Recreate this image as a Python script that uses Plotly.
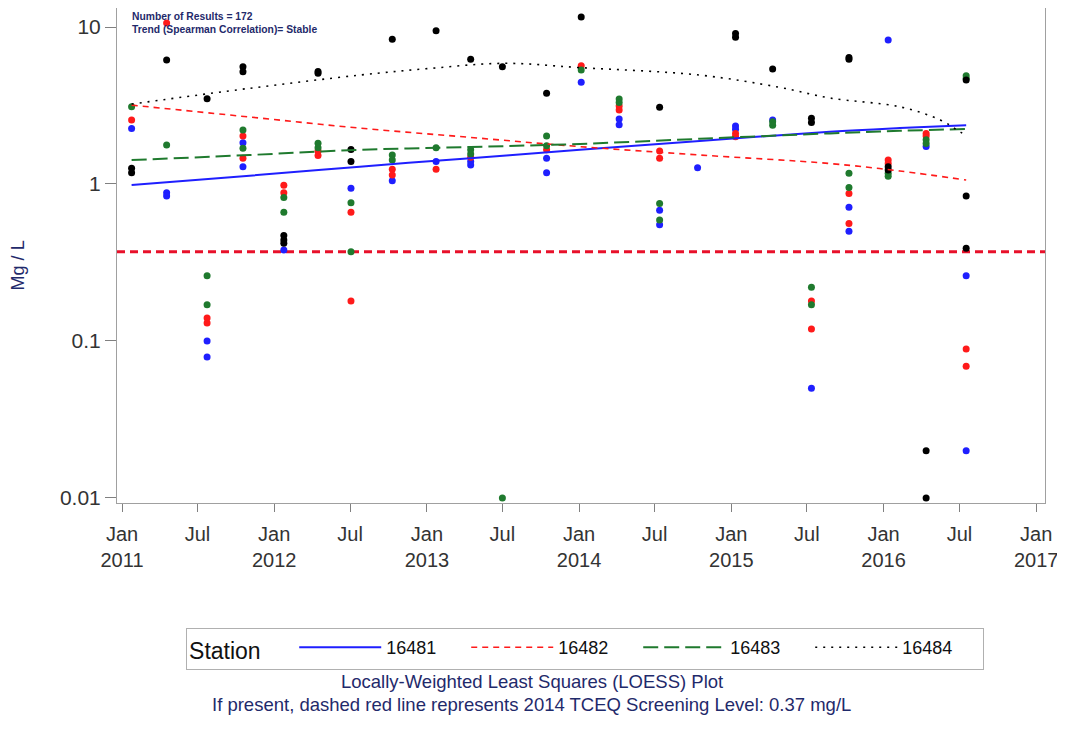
import plotly.graph_objects as go

# ---------------- data ----------------
sample_dates = [
    "2011-01-24", "2011-04-18", "2011-07-24", "2011-10-18", "2012-01-24", "2012-04-15",
    "2012-07-03", "2012-10-10", "2013-01-23", "2013-04-16", "2013-07-01", "2013-10-15",
    "2014-01-06", "2014-04-07", "2014-07-13", "2014-10-12", "2015-01-11", "2015-04-10",
    "2015-07-12", "2015-10-10", "2016-01-12", "2016-04-12", "2016-07-17",
]

values_16481 = [
    [2.26], [0.88, 0.84], [0.10, 0.079], [1.83, 1.29], [0.38], [],
    [0.94], [1.05], [1.39], [1.39, 1.32], [], [1.46, 1.18],
    [4.44], [2.59, 2.38], [0.68, 0.55], [1.27], [2.34, 2.23], [2.56],
    [0.050], [0.71, 0.50], [8.27], [1.73], [0.26, 0.02],
]
values_16482 = [
    [2.56], [10.6], [0.14, 0.13], [2.02, 1.46], [0.98, 0.88], [1.62, 1.52],
    [0.66, 0.18], [1.24, 1.14], [1.24], [1.48], [], [1.65],
    [5.67], [3.14, 2.96], [1.62, 1.46], [], [2.10, 2.00], [],
    [0.18, 0.119], [0.87, 0.56], [1.42, 1.35], [2.10, 2.02], [0.089, 0.069],
]
values_16483 = [
    [3.11], [1.77], [0.26, 0.17], [2.21, 1.69], [0.82, 0.66], [1.82, 1.70],
    [0.76, 0.37], [1.53, 1.42], [1.70], [1.65, 1.55], [0.01], [2.02, 1.75],
    [5.32], [3.48, 3.30], [0.75, 0.59], [], [], [2.49, 2.37],
    [0.22, 0.17], [1.17, 0.95], [1.17, 1.12], [1.91, 1.81], [4.9, 4.7],
]
values_16484 = [
    [1.26, 1.18], [6.16], [3.49], [5.58, 5.19], [0.47, 0.44, 0.42], [5.2, 5.07],
    [1.66, 1.39], [8.35], [9.48], [6.22], [5.58], [3.78],
    [11.6], [], [3.08], [], [9.1, 8.6], [5.40],
    [2.62, 2.46], [6.40, 6.22], [1.29, 1.23], [0.02, 0.01], [4.6, 0.84, 0.39],
]

loess_dates = ["2011-01-24", "2011-11-03", "2012-07-24", "2013-04-15", "2014-01-03",
               "2014-10-17", "2015-08-25", "2016-02-09", "2016-07-17"]
loess_16481 = [0.985, 1.13, 1.29, 1.46, 1.65, 1.88, 2.15, 2.27, 2.37]
loess_16482 = [3.18, 2.67, 2.27, 1.98, 1.73, 1.53, 1.35, 1.21, 1.06]
loess_16483 = [1.42, 1.53, 1.65, 1.72, 1.80, 1.94, 2.10, 2.18, 2.24]

loess_dates_16484 = ["2011-01-24", "2011-11-03", "2012-07-24", "2013-01-09", "2013-07-06",
                     "2014-01-03", "2014-10-17", "2015-04-26", "2015-08-25", "2016-02-09",
                     "2016-05-16", "2016-07-02", "2016-07-17"]
loess_16484 = [3.23, 4.07, 4.94, 5.45, 5.87, 5.51, 4.94, 4.13, 3.53, 3.10, 2.56, 2.15, 2.05]

stations = ["16481", "16482", "16483", "16484"]
screening_level = 0.37
n_results = 172

x_tick_vals = ["2011-01-01", "2011-07-01", "2012-01-01", "2012-07-01", "2013-01-01",
               "2013-07-01", "2014-01-01", "2014-07-01", "2015-01-01", "2015-07-01",
               "2016-01-01", "2016-07-01", "2017-01-01"]
x_tick_text = ["Jan<br>2011", "Jul", "Jan<br>2012", "Jul", "Jan<br>2013", "Jul",
               "Jan<br>2014", "Jul", "Jan<br>2015", "Jul", "Jan<br>2016", "Jul", "Jan<br>2017"]
y_tick_vals = [0.01, 0.1, 1, 10]
y_tick_text = ["0.01", "0.1", "1", "10"]

# ---------------- styles ----------------
FONT = "Liberation Sans, Arial, sans-serif"
NAVY = "#1f2a6b"
TICK_COLOR = "#333333"
colors = {"16481": "#1f1fff", "16482": "#ff1a1a", "16483": "#1f7a2e", "16484": "#000000"}
dashes = {"16481": "solid", "16482": "6px,5px", "16483": "15px,6px", "16484": "2px,6px"}
widths = {"16481": 2, "16482": 1.6, "16483": 2, "16484": 1.6}

point_values = {"16481": values_16481, "16482": values_16482,
                "16483": values_16483, "16484": values_16484}
loess_x = {"16481": loess_dates, "16482": loess_dates,
           "16483": loess_dates, "16484": loess_dates_16484}
loess_y = {"16481": loess_16481, "16482": loess_16482,
           "16483": loess_16483, "16484": loess_16484}


def flatten(dates, vals):
    xs, ys = [], []
    for d, vlist in zip(dates, vals):
        for v in vlist:
            xs.append(d)
            ys.append(v)
    return xs, ys


fig = go.Figure()

for st in stations:
    xs, ys = flatten(sample_dates, point_values[st])
    fig.add_trace(go.Scatter(
        x=xs, y=ys, mode="markers", showlegend=False,
        marker=dict(color=colors[st], size=7, line=dict(width=0)),
    ))

for st in stations:
    fig.add_trace(go.Scatter(
        x=loess_x[st], y=loess_y[st], mode="lines", name=st,
        line=dict(color=colors[st], width=widths[st], dash=dashes[st], shape="spline"),
    ))

fig.add_hline(y=screening_level, line=dict(color="#e8102a", width=3, dash="8px,5px"),
              layer="below")

# page body has an 8px margin: figure is drawn at (8, 8)
fig.update_layout(
    width=1057, height=723,
    margin=dict(l=109, r=20, t=0, b=228),
    paper_bgcolor="white", plot_bgcolor="white",
    font=dict(family=FONT, size=17, color="#222222"),
    xaxis=dict(
        type="date", range=["2010-12-20", "2017-01-22"],
        tickvals=x_tick_vals, ticktext=x_tick_text,
        ticks="outside", ticklen=8, tickcolor="#808080", ticklabelstandoff=5,
        showline=True, linecolor="#a0a0a0", linewidth=1, mirror=True,
        showgrid=False, zeroline=False,
        tickfont=dict(size=20, color=TICK_COLOR),
    ),
    yaxis=dict(
        type="log", range=[-2.032, 1.121],
        tickvals=y_tick_vals, ticktext=y_tick_text,
        ticks="outside", ticklen=11, tickcolor="#808080",
        showline=True, linecolor="#a0a0a0", linewidth=1, mirror=True,
        showgrid=False, zeroline=False,
        tickfont=dict(size=21, color=TICK_COLOR),
    ),
    legend=dict(
        orientation="h", x=0.0744, y=-0.2525, xanchor="left", yanchor="top",
        title=dict(text="Station\u00a0\u00a0\u00a0\u00a0", font=dict(size=23, color="#111111")),
        font=dict(size=18, color="#111111"),
        bordercolor="#b0b0b0", borderwidth=1, bgcolor="white",
        entrywidth=75, itemwidth=82,
    ),
    showlegend=True,
)

fig.add_annotation(
    xref="paper", yref="paper", x=0.014, y=0.998, xanchor="left", yanchor="top",
    text="<b>Number of Results = %d<br>Trend (Spearman Correlation)= Stable</b>" % n_results,
    showarrow=False, align="left", font=dict(size=10.3, color=NAVY, family=FONT),
)
fig.add_annotation(
    xref="paper", yref="paper", x=-0.1067, y=0.48, xanchor="center", yanchor="middle",
    text="Mg / L", textangle=-90, showarrow=False,
    font=dict(size=18, color=NAVY, family=FONT),
)
fig.add_annotation(
    xref="paper", yref="paper", x=0.447, y=-0.3596, xanchor="center", yanchor="middle",
    text="Locally-Weighted Least Squares (LOESS) Plot", showarrow=False,
    font=dict(size=18.5, color=NAVY, family=FONT),
)
fig.add_annotation(
    xref="paper", yref="paper", x=0.447, y=-0.408, xanchor="center", yanchor="middle",
    text="If present, dashed red line represents 2014 TCEQ Screening Level: %.2f mg/L" % screening_level,
    showarrow=False, font=dict(size=18.5, color=NAVY, family=FONT),
)

fig.write_html("out.html")
